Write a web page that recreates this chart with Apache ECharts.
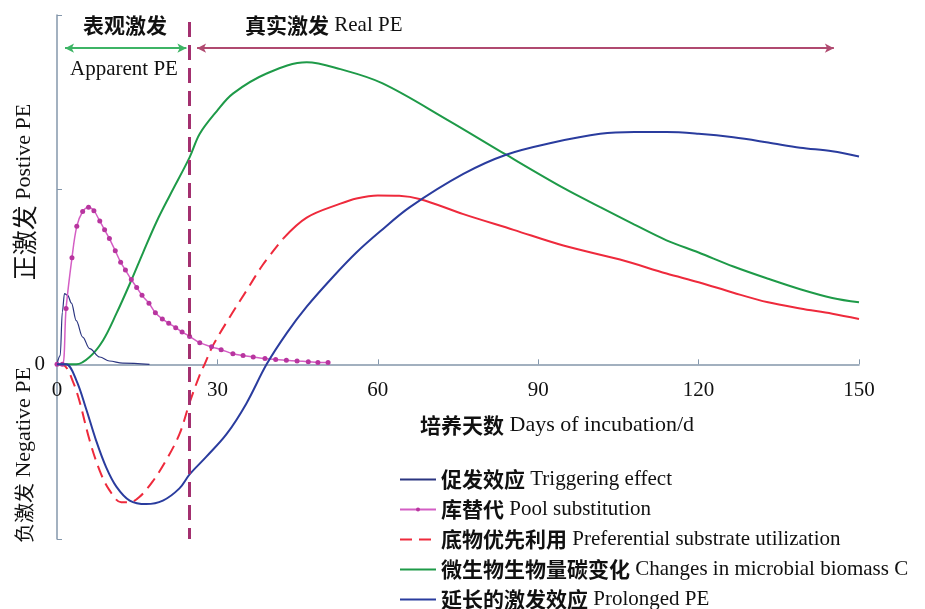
<!DOCTYPE html>
<html>
<head>
<meta charset="utf-8">
<script src="https://cdn.jsdelivr.net/npm/echarts@6/dist/echarts.min.js"></script>
<style>
  html, body { margin: 0; padding: 0; background: #fff; }
  #main { width: 925px; height: 609px; }
</style>
</head>
<body>
<div id="main"></div>
<script>
// 横轴刻度
var xTicks = [0, 30, 60, 90, 120, 150];
var yMin = -1, yMax = 2;

// 促发效应
var trigDays = [0, 0.6, 1.0, 1.4, 2.0, 2.7, 3.6, 4.8, 6.1, 8.0, 9.8, 12.3, 17.3];
var trigVals = [0, 0.05, 0.3, 0.405, 0.395, 0.35, 0.25, 0.156, 0.09, 0.042, 0.019, 0.007, 0];

// 库替代
var poolDays = [0, 1.0, 1.7, 2.8, 3.7, 4.8, 5.9, 6.9, 8.0, 8.9, 9.8, 10.9, 11.9, 12.8, 13.9, 14.9, 15.9, 17.2, 18.4, 19.7, 20.9, 22.2, 23.4, 24.8, 26.7, 28.9, 30.7, 32.9, 34.8, 36.7, 38.9, 40.9, 42.9, 44.9, 47.0, 48.8, 50.7];
var poolVals = [0, 0, 0.32, 0.61, 0.79, 0.875, 0.90, 0.88, 0.82, 0.77, 0.72, 0.65, 0.585, 0.54, 0.485, 0.44, 0.395, 0.35, 0.295, 0.26, 0.235, 0.21, 0.185, 0.16, 0.124, 0.10, 0.084, 0.061, 0.05, 0.042, 0.033, 0.027, 0.023, 0.019, 0.015, 0.011, 0.01];

// 底物优先利用 (虚线段 + 实线段)
var prefDays = [0, 1.5, 3, 4.2, 6.1, 8, 9.8, 12, 13.6, 15.4, 17.9, 20.4, 22.9, 24.8, 26.7, 27.6, 29.2, 32.3, 35.4, 38.5, 42.3];
var prefVals = [0, -0.01, -0.1, -0.21, -0.435, -0.61, -0.72, -0.79, -0.79, -0.76, -0.67, -0.55, -0.40, -0.22, -0.06, 0, 0.11, 0.27, 0.42, 0.57, 0.72];
var prefDays2 = [42.3, 46.7, 53, 56, 60, 64, 68, 76, 85.4, 94.7, 105.3, 114, 120, 126.5, 133, 139, 145, 150];
var prefVals2 = [0.72, 0.84, 0.92, 0.95, 0.967, 0.965, 0.945, 0.86, 0.77, 0.68, 0.60, 0.52, 0.47, 0.41, 0.355, 0.32, 0.29, 0.26];

// 微生物生物量碳变化
var greenDays = [0, 3.6, 6.1, 8.6, 11.1, 13.6, 16.1, 18.6, 21.1, 24.8, 26.7, 29.9, 32.9, 39.2, 46.7, 53, 60.8, 73, 84, 94.7, 101.6, 108, 114, 120, 126.5, 133, 139, 145, 150];
var greenVals = [0, 0, 0.042, 0.137, 0.29, 0.46, 0.64, 0.815, 0.967, 1.185, 1.32, 1.45, 1.55, 1.665, 1.73, 1.69, 1.61, 1.40, 1.20, 1.01, 0.90, 0.80, 0.71, 0.64, 0.56, 0.49, 0.43, 0.38, 0.355];

// 延长的激发效应
var blueDays = [0, 1.7, 3.6, 5.5, 7.3, 9.2, 11.1, 13.6, 16.7, 19.8, 22.9, 24.8, 27.9, 31.7, 35.4, 39.2, 43, 46.7, 51.6, 56, 60.4, 66, 76, 84, 92.8, 101.6, 108, 114, 120, 126.5, 133, 139, 145, 150];
var blueVals = [0, 0, -0.09, -0.26, -0.435, -0.59, -0.70, -0.78, -0.80, -0.78, -0.71, -0.63, -0.53, -0.40, -0.225, 0, 0.18, 0.33, 0.50, 0.64, 0.76, 0.90, 1.09, 1.20, 1.27, 1.32, 1.33, 1.33, 1.32, 1.30, 1.27, 1.24, 1.22, 1.19];

var names = [
    '促发效应 Triggering effect',
    '库替代 Pool substitution',
    '底物优先利用 Preferential substrate utilization',
    '微生物生物量碳变化 Changes in microbial biomass C',
    '延长的激发效应 Prolonged PE'
];

function zip(xs, ys) {
    return xs.map(function (x, i) { return [x, ys[i]]; });
}

var serif = '"Liberation Serif", "Times New Roman", serif';
var cjk = '"Noto Sans CJK SC", sans-serif';
var axisColor = '#8497ab';

var gridTop = 15, gridBottom = 70, H = 609;
// 横轴放在 y = 0 处
var zeroOffset = -(H - gridTop - gridBottom) * (0 - yMin) / (yMax - yMin);

var chart = echarts.init(document.getElementById('main'));

var option = {
    animation: false,
    grid: { left: 57, right: 66, top: gridTop, bottom: gridBottom },
    xAxis: {
        type: 'value',
        min: xTicks[0],
        max: xTicks[xTicks.length - 1],
        interval: 30,
        offset: zeroOffset,
        axisLine: { onZero: false, lineStyle: { color: axisColor, width: 1.5 } },
        axisTick: { inside: true, length: 5, lineStyle: { color: axisColor } },
        axisLabel: { margin: 16, fontFamily: serif, fontSize: 21, color: '#111' },
        splitLine: { show: false }
    },
    yAxis: {
        type: 'value',
        min: yMin,
        max: yMax,
        interval: 1,
        axisLine: { show: true, lineStyle: { color: axisColor, width: 1.5 } },
        axisTick: { show: true, inside: true, length: 5, lineStyle: { color: axisColor } },
        axisLabel: {
            margin: 12, fontFamily: serif, fontSize: 21, color: '#111',
            formatter: function (v) { return v === 0 ? '0' : ''; }
        },
        splitLine: { show: false }
    },
    legend: {
        data: names.map(function (n, i) {
            return i === 1 ? { name: n } : { name: n, itemStyle: { opacity: 0 } };
        }),
        orient: 'vertical',
        left: 394,
        top: 464,
        height: 200,
        itemWidth: 36,
        itemHeight: 5,
        itemGap: 9,
        selectedMode: false,
        formatter: function (name) {
            var k = name.indexOf(' ');
            return '{b|' + name.slice(0, k) + '} ' + name.slice(k + 1);
        },
        textStyle: {
            fontFamily: serif, fontSize: 21, color: '#111', lineHeight: 20,
            rich: { b: { fontFamily: cjk, fontWeight: 'bold', fontSize: 21, color: '#111', lineHeight: 20 } }
        }
    },
    graphic: [
        { type: 'text', x: 125, y: 25, style: { text: '表观激发', font: 'bold 21px ' + cjk, fill: '#111', align: 'center', verticalAlign: 'middle' } },
        { type: 'text', x: 124, y: 69, style: { text: 'Apparent PE', font: '21px ' + serif, fill: '#111', align: 'center', verticalAlign: 'middle' } },
        { type: 'text', x: 245, y: 25, style: {
            text: '{b|真实激发} Real PE', font: '21px ' + serif, fill: '#111', verticalAlign: 'middle',
            rich: { b: { font: 'bold 21px ' + cjk, fill: '#111' } } } },
        { type: 'text', x: 557, y: 425, style: {
            text: '{b|培养天数} Days of incubation/d', font: '22px ' + serif, fill: '#111', align: 'center', verticalAlign: 'middle',
            rich: { b: { font: 'bold 21px ' + cjk, fill: '#111' } } } },
        { type: 'text', x: 24, y: 192, rotation: Math.PI / 2, style: {
            text: '{c|正激发} Postive PE', font: '22px ' + serif, fill: '#111', align: 'center', verticalAlign: 'middle',
            rich: { c: { font: '25px ' + cjk, fill: '#111' } } } },
        { type: 'text', x: 24, y: 455, rotation: Math.PI / 2, style: {
            text: '{c|负激发} Negative PE', font: '22px ' + serif, fill: '#111', align: 'center', verticalAlign: 'middle',
            rich: { c: { font: '20px ' + cjk, fill: '#111' } } } }
    ],
    series: [
        {
            name: names[0], type: 'line', data: zip(trigDays, trigVals),
            smooth: 0.35, smoothMonotone: 'x', symbol: 'none',
            lineStyle: { color: '#2b3580', width: 1.2 }, itemStyle: { color: '#2b3580' }, z: 3
        },
        {
            name: names[1], type: 'line', data: zip(poolDays, poolVals),
            smooth: 0.35, symbol: 'circle', symbolSize: 5,
            lineStyle: { color: '#d45ec4', width: 1.5 }, itemStyle: { color: '#b8359f' }, z: 3
        },
        {
            name: names[2], type: 'line', data: zip(prefDays, prefVals),
            smooth: 0.35, symbol: 'none',
            lineStyle: { color: '#ee2a3c', width: 2, type: [12, 7] }, itemStyle: { color: '#ee2a3c' }, z: 2
        },
        {
            name: 'pref-solid', type: 'line', data: zip(prefDays2, prefVals2),
            smooth: 0.35, symbol: 'none',
            lineStyle: { color: '#ee2a3c', width: 2 }, z: 2
        },
        {
            name: names[3], type: 'line', data: zip(greenDays, greenVals),
            smooth: 0.35, symbol: 'none',
            lineStyle: { color: '#1e9a48', width: 2 }, itemStyle: { color: '#1e9a48' }, z: 2
        },
        {
            name: names[4], type: 'line', data: zip(blueDays, blueVals),
            smooth: 0.35, symbol: 'none',
            lineStyle: { color: '#2a3c9e', width: 2 }, itemStyle: { color: '#2a3c9e' }, z: 4
        },
        {
            name: 'divider', type: 'line', data: [],
            markLine: {
                silent: true, symbol: 'none', label: { show: false },
                lineStyle: { color: '#a3306f', width: 3, type: [15, 8] },
                data: [[{ coord: [24.8, 1.96] }, { coord: [24.8, -1] }]]
            }
        },
        {
            name: 'apparent-arrow', type: 'line', data: [],
            markLine: {
                silent: true, symbol: ['arrow', 'arrow'], symbolSize: [7, 9], label: { show: false },
                lineStyle: { color: '#3db465', width: 2, type: 'solid' },
                data: [[{ coord: [1.5, 1.81] }, { coord: [24.2, 1.81] }]]
            }
        },
        {
            name: 'real-arrow', type: 'line', data: [],
            markLine: {
                silent: true, symbol: ['arrow', 'arrow'], symbolSize: [7, 9], label: { show: false },
                lineStyle: { color: '#b04a70', width: 2, type: 'solid' },
                data: [[{ coord: [26.2, 1.81] }, { coord: [145.3, 1.81] }]]
            }
        }
    ]
};

chart.setOption(option);
</script>
</body>
</html>
